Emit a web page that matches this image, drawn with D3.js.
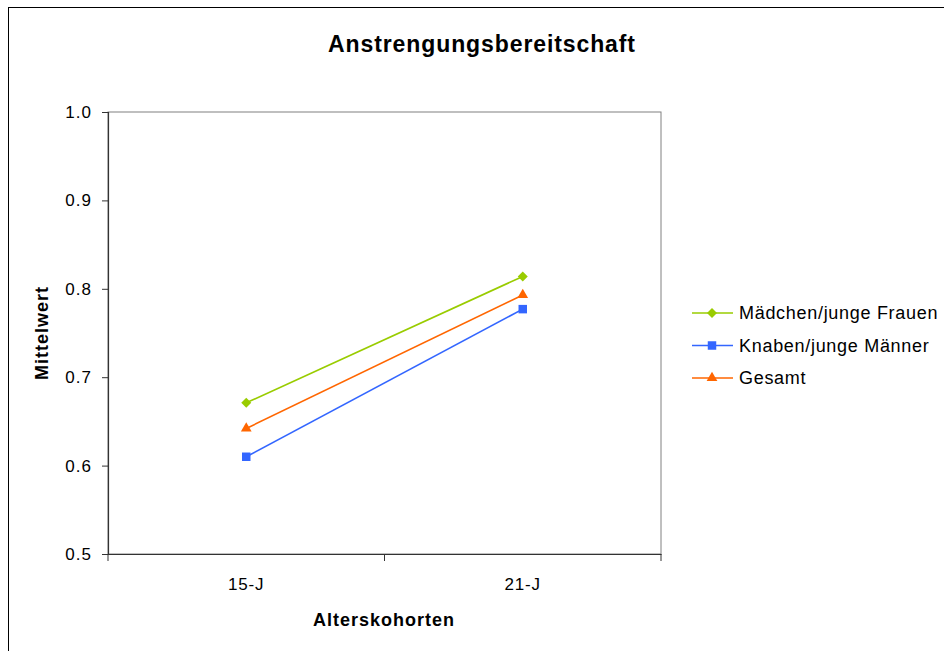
<!DOCTYPE html>
<html>
<head>
<meta charset="utf-8">
<script src="https://cdn.jsdelivr.net/npm/d3@7"></script>
<style>
  html, body { margin: 0; padding: 0; background: #fff; }
  svg { display: block; font-family: "Liberation Sans", Arial, sans-serif; }
</style>
</head>
<body>
<svg id="chart" width="944" height="651"></svg>
<script>
// Categories (age cohorts) and series means
const categories = ["15-J", "21-J"];
const maedchen = [0.671, 0.814];
const knaben = [0.610, 0.777];
const gesamt = [0.642, 0.793];
const seriesNames = ["Mädchen/junge Frauen", "Knaben/junge Männer", "Gesamt"];
const yTicks = [0.5, 0.6, 0.7, 0.8, 0.9, 1.0];

const series = [
  { name: seriesNames[0], values: maedchen, color: "#99cc00", symbol: d3.symbolSquare, size: 50, rot: 45 },
  { name: seriesNames[1], values: knaben, color: "#3366ff", symbol: d3.symbolSquare, size: 72, rot: 0 },
  { name: seriesNames[2], values: gesamt, color: "#ff6600", symbol: d3.symbolTriangle, size: 50, rot: 0 }
];

const FONT = "Liberation Sans, Arial, sans-serif";
const svg = d3.select("#chart");

// outer chart frame
svg.append("rect")
  .attr("x", 8.5).attr("y", 7.5)
  .attr("width", 940).attr("height", 650)
  .attr("fill", "#fff").attr("stroke", "#000").attr("stroke-width", 1);

const plot = { left: 108, right: 661, top: 112, bottom: 554 };

const x = d3.scaleBand().domain(categories).range([plot.left, plot.right]).padding(0);
const y = d3.scaleLinear().domain([0.5, 1.0]).range([plot.bottom, plot.top]);

// plot area border (top/right in grey)
svg.append("rect")
  .attr("x", plot.left).attr("y", plot.top)
  .attr("width", plot.right - plot.left).attr("height", plot.bottom - plot.top)
  .attr("fill", "#fff").attr("stroke", "#808080").attr("stroke-width", 1);

// y axis
const yAxis = svg.append("g")
  .attr("transform", `translate(${plot.left},0)`)
  .call(d3.axisLeft(y).tickValues(yTicks).tickFormat(d3.format(".1f")).tickSize(6).tickPadding(10));
yAxis.select(".domain").attr("stroke", "#333").attr("stroke-width", 1.2);
yAxis.selectAll(".tick line").attr("stroke", "#333");
yAxis.selectAll(".tick text")
  .attr("font-size", 17).attr("fill", "#000").attr("letter-spacing", 1)
  .attr("font-family", FONT);

// x axis with ticks between categories
const xAxis = svg.append("g")
  .attr("transform", `translate(0,${plot.bottom})`)
  .call(d3.axisBottom(x).tickSize(0).tickPadding(24));
xAxis.select(".domain").attr("stroke", "#333").attr("stroke-width", 1.2);
xAxis.selectAll(".tick text")
  .attr("font-size", 17).attr("fill", "#000").attr("letter-spacing", 0.8)
  .attr("font-family", FONT);
const bounds = [plot.left].concat(categories.map(c => x(c) + x.bandwidth()));
svg.append("g").selectAll("line").data(bounds).join("line")
  .attr("x1", d => d).attr("x2", d => d)
  .attr("y1", plot.bottom).attr("y2", plot.bottom + 7)
  .attr("stroke", "#333");

// lines and markers
const cx = i => x(categories[i]) + x.bandwidth() / 2;
const line = d3.line()
  .x((d, i) => cx(i))
  .y(d => y(d));

series.forEach(s => {
  svg.append("path")
    .datum(s.values)
    .attr("d", line)
    .attr("fill", "none")
    .attr("stroke", s.color)
    .attr("stroke-width", 1.6);
  svg.append("g").selectAll("path").data(s.values).join("path")
    .attr("d", d3.symbol().type(s.symbol).size(s.size))
    .attr("transform", (d, i) => `translate(${cx(i)},${y(d)}) rotate(${s.rot})`)
    .attr("fill", s.color);
});

// title and axis titles
svg.append("text")
  .attr("x", 482).attr("y", 52)
  .attr("text-anchor", "middle")
  .attr("font-size", 23).attr("font-weight", "bold").attr("letter-spacing", 0.9)
  .text("Anstrengungsbereitschaft");

svg.append("text")
  .attr("x", 384).attr("y", 626)
  .attr("text-anchor", "middle")
  .attr("font-size", 18).attr("font-weight", "bold").attr("letter-spacing", 1)
  .text("Alterskohorten");

svg.append("text")
  .attr("transform", "translate(48,333) rotate(-90)")
  .attr("text-anchor", "middle")
  .attr("font-size", 18).attr("font-weight", "bold").attr("letter-spacing", 1)
  .text("Mittelwert");

// legend
const legend = svg.append("g");
series.forEach((s, i) => {
  const ly = 313 + i * 32.5;
  legend.append("line")
    .attr("x1", 692).attr("x2", 733)
    .attr("y1", ly).attr("y2", ly)
    .attr("stroke", s.color).attr("stroke-width", 1.6);
  legend.append("path")
    .attr("d", d3.symbol().type(s.symbol).size(s.size))
    .attr("transform", `translate(712,${ly}) rotate(${s.rot})`)
    .attr("fill", s.color);
  legend.append("text")
    .attr("x", 739).attr("y", ly + 6)
    .attr("font-size", 18).attr("letter-spacing", 0.7)
    .text(s.name);
});
</script>
</body>
</html>
